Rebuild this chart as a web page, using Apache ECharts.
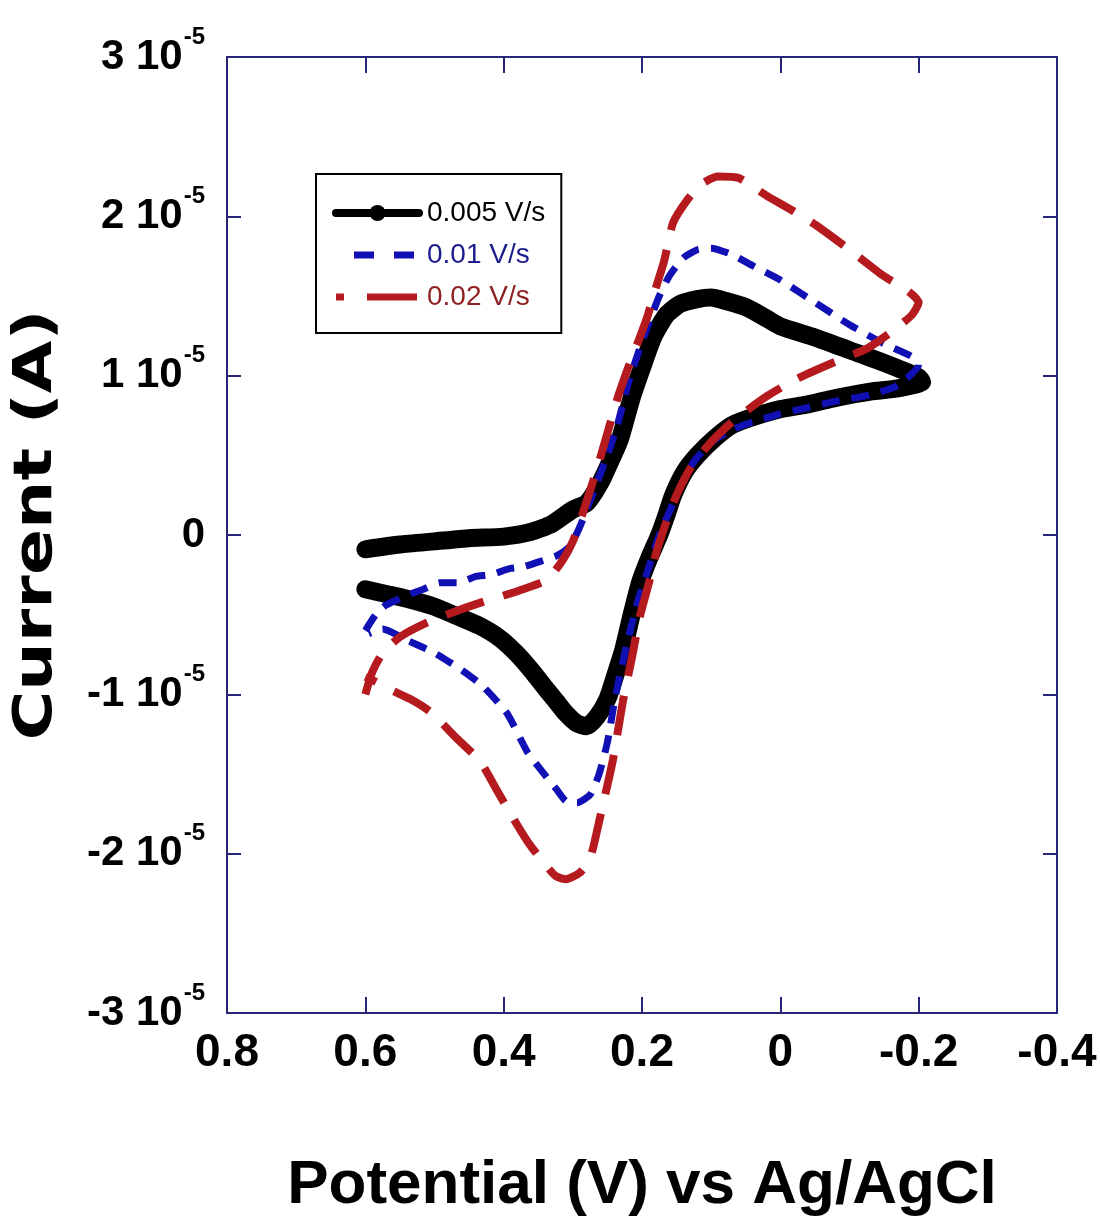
<!DOCTYPE html>
<html>
<head>
<meta charset="utf-8">
<script src="https://cdn.jsdelivr.net/npm/echarts@6/dist/echarts.min.js"></script>
<style>
html,body{margin:0;padding:0;background:#ffffff;}
#chart{width:1100px;height:1228px;}
</style>
</head>
<body>
<div id="chart"></div>
<script>
// ---- Data (potential in V vs Ag/AgCl, current in units of 1e-5 A) ----
const seriesNames = ['0.005 V/s', '0.01 V/s', '0.02 V/s'];

const blackPotential = [0.60,0.55,0.50,0.45,0.40,0.36,0.33,0.30,0.28,0.26,0.245,0.232,0.215,0.20,0.184,0.165,0.145,0.12,0.10,0.08,0.05,0.02,0.0,-0.05,-0.10,-0.15,-0.20,-0.205,-0.17,-0.13,-0.08,-0.04,0.0,0.04,0.07,0.094,0.12,0.138,0.155,0.165,0.175,0.19,0.203,0.215,0.227,0.24,0.25,0.265,0.28,0.295,0.31,0.323,0.34,0.358,0.38,0.405,0.435,0.467,0.50,0.54,0.57,0.60];
const blackCurrent = [-0.09,-0.06,-0.04,-0.02,-0.01,0.02,0.07,0.16,0.20,0.33,0.47,0.60,0.86,1.05,1.24,1.38,1.45,1.48,1.49,1.47,1.43,1.36,1.31,1.24,1.16,1.08,0.99,0.96,0.92,0.90,0.86,0.82,0.79,0.74,0.69,0.61,0.50,0.40,0.25,0.12,0.0,-0.15,-0.30,-0.50,-0.72,-0.90,-1.03,-1.14,-1.20,-1.18,-1.12,-1.05,-0.96,-0.86,-0.75,-0.65,-0.57,-0.51,-0.45,-0.40,-0.37,-0.34];

const bluePotential = [0.60,0.585,0.57,0.54,0.516,0.492,0.467,0.44,0.42,0.39,0.372,0.343,0.323,0.304,0.29,0.278,0.265,0.25,0.235,0.22,0.205,0.19,0.175,0.16,0.14,0.12,0.10,0.07,0.04,0.0,-0.05,-0.10,-0.15,-0.19,-0.20,-0.17,-0.13,-0.08,-0.04,0.0,0.04,0.07,0.10,0.125,0.145,0.16,0.175,0.19,0.205,0.22,0.232,0.24,0.25,0.262,0.275,0.294,0.31,0.323,0.345,0.366,0.395,0.43,0.46,0.50,0.54,0.575,0.595];
const blueCurrent = [-0.60,-0.50,-0.44,-0.38,-0.34,-0.30,-0.30,-0.26,-0.25,-0.21,-0.20,-0.16,-0.13,-0.07,0.05,0.18,0.33,0.50,0.70,0.95,1.15,1.33,1.50,1.63,1.74,1.79,1.80,1.76,1.69,1.60,1.46,1.32,1.20,1.12,1.07,0.94,0.88,0.84,0.80,0.76,0.71,0.66,0.58,0.46,0.30,0.15,0.0,-0.20,-0.40,-0.65,-0.88,-1.05,-1.30,-1.50,-1.63,-1.68,-1.67,-1.60,-1.48,-1.36,-1.12,-0.95,-0.85,-0.74,-0.66,-0.59,-0.62];

const redPotential = [0.60,0.59,0.575,0.55,0.511,0.47,0.43,0.40,0.372,0.337,0.315,0.30,0.287,0.275,0.262,0.25,0.236,0.22,0.205,0.193,0.18,0.168,0.155,0.135,0.115,0.09,0.06,0.02,-0.02,-0.053,-0.10,-0.148,-0.185,-0.20,-0.19,-0.159,-0.125,-0.07,-0.024,0.02,0.058,0.08,0.105,0.13,0.15,0.165,0.18,0.19,0.203,0.215,0.227,0.242,0.26,0.275,0.29,0.31,0.325,0.347,0.366,0.386,0.41,0.434,0.467,0.506,0.535,0.564,0.585,0.60];
const redCurrent = [-1.00,-0.86,-0.74,-0.64,-0.55,-0.48,-0.42,-0.38,-0.34,-0.28,-0.16,-0.04,0.12,0.28,0.46,0.64,0.85,1.05,1.22,1.36,1.55,1.72,1.96,2.10,2.20,2.25,2.24,2.13,2.03,1.94,1.79,1.63,1.53,1.46,1.38,1.27,1.17,1.07,0.98,0.87,0.75,0.67,0.56,0.42,0.25,0.08,-0.12,-0.30,-0.51,-0.78,-1.03,-1.41,-1.76,-2.03,-2.12,-2.16,-2.14,-2.03,-1.92,-1.78,-1.60,-1.42,-1.28,-1.11,-1.03,-0.97,-0.92,-0.89];

// axis ranges / tick steps
const xRange = [-0.4, 0.8];
const xStep = 0.2;
const yRange = [-3, 3];
const yStep = 1;
const yExponent = '-5';

// ---- Styles ----
const AXIS = '#26267a';
const BLUE = '#1010b4';
const RED = '#b51a1e';
const SANS = '"Liberation Sans", Arial, sans-serif';

function zip(xs, ys) { return xs.map((x, i) => [x, ys[i]]); }

function xFmt(v) {
  if (Math.abs(v) < 1e-9) return '0';
  return (Math.round(v * 10) / 10).toFixed(1);
}
function yFmt(v) {
  const r = Math.round(v);
  if (r === 0) return '{b|0}';
  return '{b|' + r + ' 10}{s|' + yExponent + '}';
}

const axisLine = { show: true, onZero: false, lineStyle: { color: AXIS, width: 2 } };
const tickX = { show: true, inside: true, length: 16, lineStyle: { color: AXIS, width: 2 } };
const tickY = { show: true, inside: true, length: 14, lineStyle: { color: AXIS, width: 2 } };

const chart = echarts.init(document.getElementById('chart'), null, { renderer: 'canvas' });

const option = {
  animation: false,
  backgroundColor: '#ffffff',
  grid: { left: 227, right: 43, top: 57, bottom: 215, containLabel: false },
  xAxis: [
    {
      type: 'value', min: xRange[0], max: xRange[1], interval: xStep, inverse: true,
      position: 'bottom',
      axisLine: axisLine, axisTick: tickX, splitLine: { show: false },
      axisLabel: {
        margin: 17, color: '#000', fontFamily: SANS, fontWeight: 'bold', fontSize: 46,
        formatter: xFmt
      },
      name: 'Potential (V) vs Ag/AgCl', nameLocation: 'middle', nameGap: 142,
      nameTextStyle: { fontFamily: SANS, fontWeight: 'bold', fontSize: 62, color: '#000' }
    },
    {
      type: 'value', min: xRange[0], max: xRange[1], interval: xStep, inverse: true,
      position: 'top',
      axisLine: axisLine, axisTick: tickX, splitLine: { show: false },
      axisLabel: { show: false }
    }
  ],
  yAxis: [
    {
      type: 'value', min: yRange[0], max: yRange[1], interval: yStep,
      position: 'left',
      axisLine: axisLine, axisTick: tickY, splitLine: { show: false },
      axisLabel: {
        margin: 22, color: '#000',
        formatter: yFmt,
        rich: {
          b: { fontFamily: SANS, fontWeight: 'bold', fontSize: 42, color: '#000' },
          s: { fontFamily: SANS, fontWeight: 'bold', fontSize: 24, color: '#000', padding: [0, 0, 40, 1] }
        }
      }
    },
    {
      type: 'value', min: yRange[0], max: yRange[1], interval: yStep,
      position: 'right',
      axisLine: axisLine, axisTick: tickY, splitLine: { show: false },
      axisLabel: { show: false }
    }
  ],
  legend: {
    orient: 'vertical', left: 316, top: 174,
    padding: [20, 16, 17, 16],
    borderColor: '#000', borderWidth: 2, backgroundColor: '#fff',
    itemWidth: 83, itemHeight: 20, itemGap: 4,
    selectedMode: false,
    textStyle: { fontFamily: SANS, fontSize: 28, lineHeight: 38, color: '#000', padding: [0, 0, 0, 3] },
    data: [
      { name: seriesNames[0], lineStyle: { width: 8, color: '#000' }, itemStyle: { color: '#000' } },
      { name: seriesNames[1], lineStyle: { width: 7, color: BLUE, type: [20, 20], dashOffset: 22 }, itemStyle: { opacity: 0 }, textStyle: { color: '#1c1c8c' } },
      { name: seriesNames[2], lineStyle: { width: 7, color: RED, type: [50, 23], dashOffset: 42 }, itemStyle: { opacity: 0 }, textStyle: { color: '#8e2222' } }
    ]
  },
  graphic: [
    {
      type: 'text', x: 37, y: 525, rotation: Math.PI / 2, scaleX: 1.26, scaleY: 1,
      style: { text: 'Current (A)', font: 'bold 54px "DejaVu Sans", sans-serif', fill: '#000', align: 'center', verticalAlign: 'middle' }
    }
  ],
  series: [
    {
      type: 'line', name: seriesNames[0], data: zip(blackPotential, blackCurrent),
      symbol: 'circle', symbolSize: 16, showSymbol: false, smooth: 0.2,
      lineStyle: { color: '#000', width: 18, join: 'round', cap: 'round' },
      itemStyle: { color: '#000' }, emphasis: { disabled: true }, silent: true, z: 2
    },
    {
      type: 'line', name: seriesNames[1], data: zip(bluePotential, blueCurrent),
      symbol: 'none', smooth: 0.2,
      lineStyle: { color: BLUE, width: 7, type: [18, 12] },
      itemStyle: { color: BLUE }, emphasis: { disabled: true }, silent: true, z: 3
    },
    {
      type: 'line', name: seriesNames[2], data: zip(redPotential, redCurrent),
      symbol: 'none', smooth: 0.2,
      lineStyle: { color: RED, width: 8, type: [40, 20] },
      itemStyle: { color: RED }, emphasis: { disabled: true }, silent: true, z: 4
    }
  ]
};
chart.setOption(option);
</script>
</body>
</html>
